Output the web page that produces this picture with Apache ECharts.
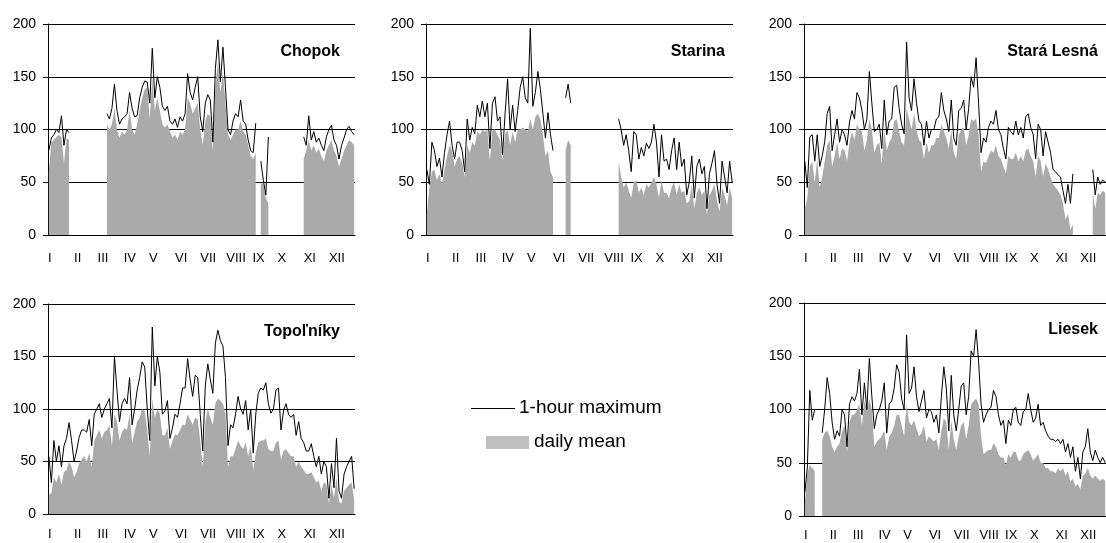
<!DOCTYPE html>
<html>
<head>
<meta charset="utf-8">
<script src="https://cdn.jsdelivr.net/npm/echarts@6/dist/echarts.min.js"></script>
<style>
  html, body { margin: 0; padding: 0; background: #fff; }
  #chart { width: 1106px; height: 543px; }
</style>
</head>
<body>
<div id="chart"></div>
<script>
// Sample days (day of year) shared by every station
const days = [1,4,7,10,13,16,19,22,25,28,31,34,37,40,43,46,49,52,55,58,61,64,67,70,73,76,79,82,85,88,
  91,94,97,100,103,106,109,112,115,118,121,124,127,130,133,136,139,142,145,148,151,154,157,160,163,166,169,172,175,178,
  181,184,187,190,193,196,199,202,205,208,211,214,217,220,223,226,229,232,235,238,241,244,247,250,253,256,259,262,265,268,
  271,274,277,280,283,286,289,292,295,298,301,304,307,310,313,316,319,322,325,328,331,334,337,340,343,346,349,352,355,358,
  361,364];

// Month tick positions (first day of each month) and their labels
const monthStarts = [0,31,59,90,120,151,181,212,243,273,304,334];
const monthLabels = ['I','II','III','IV','V','VI','VII','VIII','IX','X','XI','XII'];
const yTicks = [0, 50, 100, 150, 200];

const N = null;

// Chopok
const chopokMax = [80,92,95,100,97,113,85,100,97,
  N,N,N,N,N,N,N,N,N,N,N,N,N,N,
  115,110,120,143,118,105,110,112,115,135,
  120,112,113,130,140,146,145,125,177,130,
  150,140,122,118,122,108,105,110,102,112,
  108,115,153,135,128,140,150,112,98,125,
  133,128,88,158,185,145,178,140,100,95,
  108,115,112,128,108,105,90,80,78,106,
  N,
  70,52,38,93,
  N,N,N,N,N,N,N,N,N,N,N,N,N,
  93,85,113,90,98,88,92,85,80,93,100,104,90,85,72,85,92,100,103,98,95];
const chopokMean = [60,88,90,93,95,93,68,92,90,
  N,N,N,N,N,N,N,N,N,N,N,N,N,N,
  105,100,105,120,100,92,98,95,100,118,
  100,95,105,118,130,138,140,110,150,118,
  130,118,105,102,105,98,92,95,90,98,
  95,100,130,125,115,120,125,100,85,108,
  115,112,80,140,165,135,155,125,95,90,
  95,100,100,108,98,95,85,75,72,78,
  N,
  50,48,35,30,
  N,N,N,N,N,N,N,N,N,N,N,N,N,
  72,80,90,80,85,78,82,75,70,80,85,90,80,75,65,72,80,85,90,88,85];

// Starina
const starinaMax = [62,48,88,80,65,73,55,78,95,108,
  85,72,88,88,80,60,110,90,102,96,
  123,112,127,112,125,82,125,131,108,112,
  76,115,148,100,123,98,118,140,150,130,
  125,196,122,135,155,138,115,92,116,95,
  80,
  N,N,N,N,
  130,143,125,
  N,N,N,N,N,N,N,N,N,N,N,N,N,N,N,N,N,N,
  110,100,85,95,80,60,98,95,72,83,
  75,87,82,88,105,88,55,95,70,72,
  62,80,92,62,88,65,72,38,50,75,
  35,65,72,58,65,25,58,68,80,48,
  30,70,55,40,70,50];
const starinaMean = [20,45,60,62,52,58,48,62,75,85,
  80,65,72,75,68,55,85,78,88,85,
  98,95,100,98,100,70,100,100,95,90,
  70,95,100,85,98,88,100,100,102,100,
  98,110,100,112,115,110,95,75,80,60,
  55,
  N,N,N,N,
  80,90,85,
  N,N,N,N,N,N,N,N,N,N,N,N,N,N,N,N,N,N,
  70,55,45,50,42,35,50,52,40,45,
  38,48,45,50,55,48,35,52,40,40,
  35,45,50,38,48,40,42,30,32,48,
  25,40,45,38,42,20,38,42,48,32,
  22,45,38,28,45,35];

// Stará Lesná
const staraLesnaMax = [70,45,93,95,70,95,65,75,88,115,
  122,80,95,110,88,100,95,85,107,118,
  110,135,130,118,100,110,155,125,98,100,
  105,82,128,95,108,110,140,142,120,105,
  96,183,130,118,148,125,108,105,85,108,
  92,100,100,110,112,135,118,110,98,128,
  92,85,118,120,128,100,120,150,140,168,
  125,78,92,88,102,108,105,118,100,95,
  82,72,102,98,95,108,95,102,92,112,
  115,102,95,72,105,100,75,98,88,78,
  62,60,57,55,42,30,48,30,58,
  N,N,N,N,N,N,N,
  62,38,55,48,52,50];
const staraLesnaMean = [25,35,65,70,50,72,45,55,70,85,
  90,65,75,88,72,82,80,70,88,98,
  90,105,100,98,80,90,110,100,78,85,
  88,68,100,80,88,92,108,110,98,88,
  85,120,110,100,115,100,90,88,72,88,
  78,85,85,92,92,105,98,92,82,100,
  78,72,95,100,102,85,95,110,108,110,
  95,60,70,68,75,80,78,85,75,72,
  65,58,75,72,72,78,70,75,70,80,
  82,75,70,55,75,70,55,68,62,55,
  48,45,42,38,30,15,20,5,10,
  N,N,N,N,N,N,N,
  40,25,40,38,42,40];

// Topoľníky
const topolnikyMax = [55,30,70,50,65,45,65,72,87,70,
  50,60,73,80,80,78,90,65,95,100,
  105,92,100,105,110,82,150,118,88,105,
  110,105,130,85,100,118,130,145,140,100,
  70,178,122,150,135,95,98,108,72,82,
  95,92,105,120,120,148,128,112,132,130,
  95,60,122,143,128,115,163,175,165,160,
  130,65,85,82,95,112,100,95,108,80,
  100,58,95,115,120,118,125,105,96,100,
  118,120,80,98,105,95,92,95,75,88,
  72,68,60,60,67,55,45,55,38,50,
  45,15,48,25,72,22,15,38,45,50,
  55,24];
const topolnikyMean = [18,20,35,30,38,28,40,42,50,45,
  35,40,48,52,55,50,58,45,70,75,
  80,72,78,80,85,65,95,88,70,78,
  82,80,95,68,78,88,92,100,98,80,
  55,110,92,100,95,75,75,82,62,70,
  76,75,80,85,85,95,90,85,92,90,
  70,45,88,100,92,85,105,110,108,105,
  95,45,55,55,62,70,65,62,68,55,
  65,42,58,68,70,70,72,62,60,60,
  68,70,52,60,62,58,55,55,45,50,
  45,42,38,38,40,35,30,32,22,30,
  28,10,28,15,35,12,10,22,25,28,
  30,14];

// Liesek
const liesekMax = [22,45,118,90,100,N,N,78,100,130,
  115,88,72,80,75,100,95,65,105,112,
  108,115,138,95,125,100,148,112,82,95,
  100,108,125,78,105,108,120,142,135,110,
  100,170,115,120,140,112,98,108,118,92,
  100,98,88,95,78,112,140,120,80,132,
  95,80,100,122,125,95,112,155,150,175,
  145,105,88,95,100,102,118,112,95,85,
  90,68,90,85,100,102,88,85,98,100,
  115,100,88,92,105,85,88,80,75,72,
  72,70,72,68,72,60,68,55,65,42,
  55,35,60,65,82,60,52,62,55,50,
  55,50];
const liesekMean = [12,40,48,45,42,N,N,72,78,80,
  75,65,60,65,68,80,85,60,88,95,
  95,100,105,85,108,100,110,100,65,70,
  72,75,80,62,75,78,85,95,95,85,
  75,105,88,85,90,82,75,78,85,70,
  75,72,70,72,62,80,92,88,62,90,
  72,62,75,85,88,72,85,105,108,110,
  105,75,58,60,62,62,68,65,58,55,
  55,48,58,55,60,60,52,52,58,60,
  62,58,52,55,58,50,50,45,45,42,
  42,40,45,42,45,38,42,32,35,28,
  30,25,38,40,45,38,35,38,35,33,
  35,33];

const FONT = '"Liberation Sans", Arial, sans-serif';

const panels = [
  { title: 'Chopok',      max: chopokMax,      mean: chopokMean,      grid: { left: 48,  top: 24,  width: 307, height: 211 }, tx: 340,  ty: 52,  lm: 17 },
  { title: 'Starina',     max: starinaMax,     mean: starinaMean,     grid: { left: 426, top: 24,  width: 307, height: 211 }, tx: 725,  ty: 52,  lm: 17 },
  { title: 'Stará Lesná', max: staraLesnaMax,  mean: staraLesnaMean,  grid: { left: 804, top: 24,  width: 306, height: 211 }, tx: 1098, ty: 52,  lm: 17 },
  { title: 'Topoľníky',   max: topolnikyMax,   mean: topolnikyMean,   grid: { left: 48,  top: 304, width: 307, height: 210 }, tx: 340,  ty: 332, lm: 14 },
  { title: 'Liesek',      max: liesekMax,      mean: liesekMean,      grid: { left: 804, top: 303, width: 306, height: 213 }, tx: 1098, ty: 330, lm: 13 }
];

const toPairs = arr => days.map((d, j) => [d, arr[j] === null ? '-' : arr[j]]);

const grids = [], xAxes = [], yAxes = [], series = [], graphics = [];

panels.forEach((p, k) => {
  grids.push(Object.assign({ containLabel: false }, p.grid));
  xAxes.push({
    gridIndex: k, type: 'value', min: 0, max: 365,
    axisLine: { show: true, onZero: true, lineStyle: { color: '#000', width: 1 } },
    axisTick: { show: false },
    splitLine: { show: false },
    axisLabel: {
      customValues: monthStarts,
      formatter: v => monthLabels[monthStarts.indexOf(v)] || '',
      align: 'left', margin: p.lm, color: '#000', fontSize: 13, fontFamily: FONT
    }
  });
  yAxes.push({
    gridIndex: k, type: 'value', min: 0, max: 200, interval: 50,
    axisLine: { show: true, lineStyle: { color: '#000', width: 1 } },
    axisTick: { show: true, inside: false, length: 5, lineStyle: { color: '#000' } },
    splitLine: { show: true, lineStyle: { color: '#000', width: 1 } },
    axisLabel: {
      customValues: yTicks,
      margin: 12, color: '#000', fontSize: 14, fontFamily: FONT
    }
  });
  series.push({
    name: 'daily mean', type: 'line', xAxisIndex: k, yAxisIndex: k,
    data: toPairs(p.mean), symbol: 'none', connectNulls: false,
    lineStyle: { width: 0, color: '#aaaaaa' },
    areaStyle: { color: '#aaaaaa', opacity: 1 },
    silent: true, z: 1
  });
  series.push({
    name: '1-hour maximum', type: 'line', xAxisIndex: k, yAxisIndex: k,
    data: toPairs(p.max), symbol: 'none', connectNulls: false,
    lineStyle: { width: 1, color: '#000' },
    silent: true, z: 3
  });
  graphics.push({
    type: 'text', x: p.tx, y: p.ty, z: 10,
    style: {
      text: p.title, fill: '#000', align: 'right', verticalAlign: 'middle',
      font: 'bold 16px ' + FONT
    }
  });
});

// Legend drawn in the empty middle slot of the lower row
graphics.push(
  { type: 'line', shape: { x1: 471, y1: 408.5, x2: 515, y2: 408.5 }, style: { stroke: '#000', lineWidth: 1 }, z: 10 },
  { type: 'text', x: 519, y: 408, z: 10,
    style: { text: '1-hour maximum', fill: '#000', align: 'left', verticalAlign: 'middle', font: '19px ' + FONT } },
  { type: 'rect', shape: { x: 486, y: 436, width: 43, height: 13 }, style: { fill: '#c0c0c0' }, z: 10 },
  { type: 'text', x: 534, y: 442, z: 10,
    style: { text: 'daily mean', fill: '#000', align: 'left', verticalAlign: 'middle', font: '19px ' + FONT } }
);

const chart = echarts.init(document.getElementById('chart'), null, { renderer: 'canvas' });
chart.setOption({
  animation: false,
  backgroundColor: '#fff',
  grid: grids,
  xAxis: xAxes,
  yAxis: yAxes,
  series: series,
  graphic: graphics
});
</script>
</body>
</html>
